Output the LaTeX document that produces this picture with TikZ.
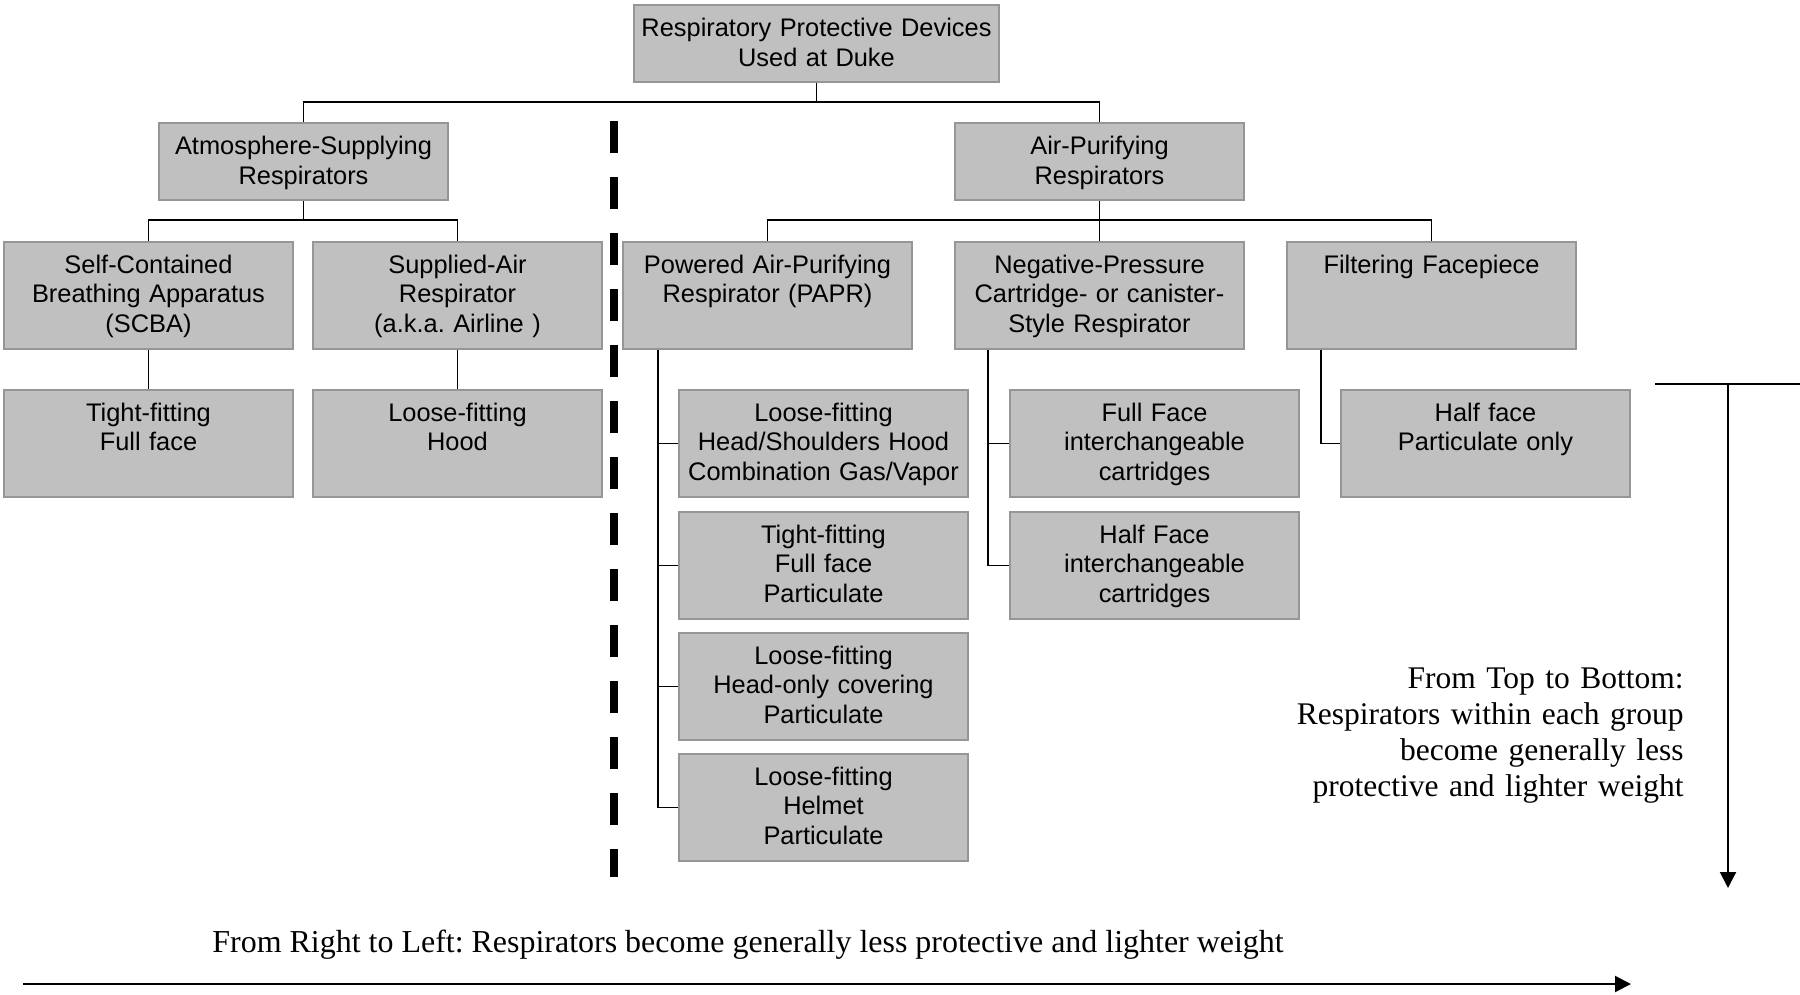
\documentclass[tikz,border=0pt]{standalone}
\usepackage{fontspec}
\setmainfont{Liberation Serif}
\setsansfont{Liberation Sans}
\usetikzlibrary{arrows.meta}
\definecolor{boxfill}{HTML}{C0C0C0}
\definecolor{boxline}{HTML}{969696}
\frenchspacing
\tikzset{
  rbox/.style={draw=boxline, fill=boxfill, line width=1pt, inner sep=0pt,
    text width=#1, align=center, anchor=north west,
    font=\sffamily\fontsize{12.7}{14.85}\selectfont},
  tallbox/.style={rbox=144.5pt, text height=15.5pt, text depth=38pt},
  shortbox/.style={rbox=#1, text height=16pt, text depth=22.5pt},
  link/.style={line width=0.7pt, draw=black},
  note/.style={font=\rmfamily\fontsize{15.75}{18.15}\selectfont, inner sep=0pt},
  wide note/.style={note, font=\rmfamily\fontsize{15.98}{18.15}\selectfont},
  trend/.style={line width=1pt, -{Triangle[width=8pt,length=8pt]}},
  divider/.style={line width=4pt, dash pattern=on 16pt off 12pt},
}
\begin{document}
\frenchspacing
\begin{tikzpicture}[x=0.5pt,y=-0.5pt]
\useasboundingbox (0,0) rectangle (1800,995);

% level 0 and 1
\node[shortbox=182.5pt] (top) at (633,4) {Respiratory Protective Devices\\Used at Duke};
\node[shortbox=144.5pt] (atmos) at (158,122) {Atmosphere-Supplying\\Respirators};
\node[shortbox=144.5pt] (airp) at (954,122) {Air-Purifying\\Respirators};

% level 2
\node[tallbox] (scba) at (3,241) {Self-Contained\\Breathing Apparatus\\(SCBA)};
\node[tallbox] (sar) at (312,241) {Supplied-Air\\Respirator\\(a.k.a. Airline )};
\node[tallbox] (papr) at (622,241) {Powered Air-Purifying\\Respirator (PAPR)};
\node[tallbox] (np) at (954,241) {Negative-Pressure\\Cartridge- or canister-\\Style Respirator};
\node[tallbox] (ff) at (1286,241) {Filtering Facepiece};

% level 3
\node[tallbox] (scbac) at (3,389) {Tight-fitting\\Full face};
\node[tallbox] (sarc) at (312,389) {Loose-fitting\\Hood};
\node[tallbox] (p1) at (678,389) {Loose-fitting\\Head/Shoulders Hood\\Combination Gas/Vapor};
\node[tallbox] (p2) at (678,511) {Tight-fitting\\Full face\\Particulate};
\node[tallbox] (p3) at (678,632) {Loose-fitting\\Head-only covering\\Particulate};
\node[tallbox] (p4) at (678,753) {Loose-fitting\\Helmet\\Particulate};
\node[tallbox] (n1) at (1009,389) {Full Face\\interchangeable\\cartridges};
\node[tallbox] (n2) at (1009,511) {Half Face\\interchangeable\\cartridges};
\node[tallbox] (f1) at (1340,389) {Half face\\Particulate only};

% connectors
\coordinate (lev0) at (0,102);
\coordinate (lev1) at (0,220);
\draw[link] (top.south) -- (top.south |- lev0);
\draw[link] (atmos.north) -- (atmos.north |- lev0) -- (airp.north |- lev0) -- (airp.north);
\draw[link] (atmos.south) -- (atmos.south |- lev1);
\draw[link] (scba.north) -- (scba.north |- lev1) -- (sar.north |- lev1) -- (sar.north);
\draw[link] (airp.south) -- (airp.south |- lev1);
\draw[link] (papr.north) -- (papr.north |- lev1) -- (ff.north |- lev1) -- (ff.north);
\draw[link] (np.north) -- (np.north |- lev1);
\draw[link] (scba.south) -- (scbac.north);
\draw[link] (sar.south) -- (sarc.north);

\coordinate (pb) at ([xshift=18pt]papr.south west);
\draw[link] (pb) |- (p4.west);
\draw[link] (pb |- p1.west) -- (p1.west);
\draw[link] (pb |- p2.west) -- (p2.west);
\draw[link] (pb |- p3.west) -- (p3.west);

\coordinate (nb) at ([xshift=17pt]np.south west);
\draw[link] (nb) |- (n2.west);
\draw[link] (nb |- n1.west) -- (n1.west);

\coordinate (fb) at ([xshift=17.5pt]ff.south west);
\draw[link] (fb) |- (f1.west);

% dashed divider
\coordinate (d1) at (614,121);
\coordinate (d2) at (614,877);
\draw[divider] (d1) -- (d2);

% top-to-bottom arrow
\coordinate (h1) at (1655,384);
\coordinate (h2) at (1800,384);
\coordinate (vtop) at (1728,384);
\coordinate (vbot) at (1728,888);
\draw[line width=1pt] (h1) -- (h2);
\draw[trend] (vtop) -- (vbot);

\node[note, text width=300pt, align=right, anchor=base east] (tbtext) at (1684,688)
  {From Top to Bottom:\\Respirators within each group\\become generally less\\protective and lighter weight};

% right-to-left arrow
\coordinate (b1) at (23,984);
\coordinate (b2) at (1631,984);
\draw[trend] (b1) -- (b2);
\node[wide note, anchor=base west] (rltext) at (212,952)
  {From Right to Left: Respirators become generally less protective and lighter weight};
\end{tikzpicture}
\end{document}
